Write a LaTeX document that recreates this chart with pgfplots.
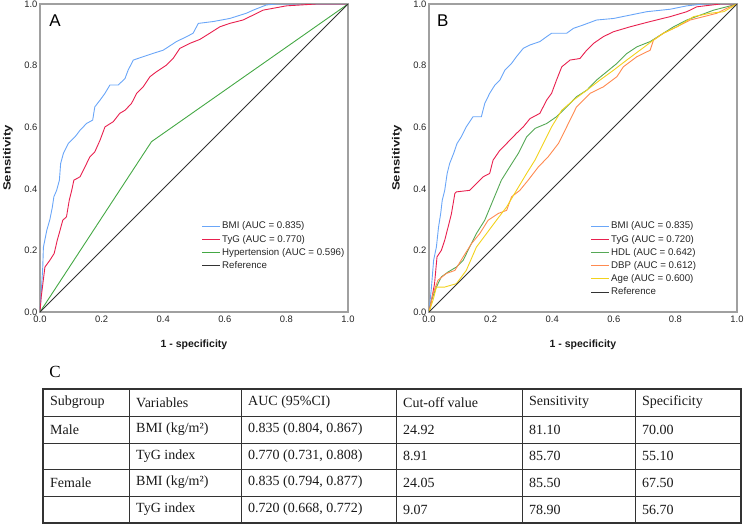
\documentclass[border=0pt]{standalone}
\usepackage{fontspec}
\setmainfont{Liberation Sans}
\newfontfamily\tabfont{Liberation Serif}
\usepackage{graphicx}
\usepackage{pgfplots}
\pgfplotsset{compat=1.18}
\definecolor{bmi}{HTML}{6AA6F8}
\definecolor{tyg}{HTML}{E8204E}
\definecolor{hyp}{HTML}{44A844}
\definecolor{hdl}{HTML}{55A855}
\definecolor{dbp}{HTML}{FF8A50}
\definecolor{age}{HTML}{F2D21C}
\definecolor{frame}{HTML}{A0A0A0}
\definecolor{refl}{HTML}{333333}
\pgfplotsset{rocstyle/.style={
  scale only axis, width=308pt, height=308pt,
  xmin=0, xmax=1, ymin=0, ymax=1,
  xtick={0,0.2,0.4,0.6,0.8,1}, ytick={0,0.2,0.4,0.6,0.8,1},
  /pgf/number format/assume math mode=true,
  xticklabel style={/pgf/number format/.cd, fixed, fixed zerofill, precision=1},
  yticklabel style={xshift=1pt, /pgf/number format/.cd, fixed, fixed zerofill, precision=1},
  tick label style={font=\fontsize{9.4}{11}\selectfont, text=black!85},
  major tick length=0pt,
  axis line style={frame, line width=1.2pt},
  xlabel={1 - specificity}, ylabel={\scalebox{1.25}[1]{Sensitivity}},
  label style={font=\fontsize{10.5}{12}\selectfont\bfseries, text=black!90},
  xlabel style={at={(axis description cs:0.5,-0.107)}, anchor=center},
  ylabel style={at={(axis description cs:-0.104,0.5)}, anchor=center},
  legend cell align=left,
  legend image code/.code={\draw[##1] (0pt,0pt) -- (18pt,0pt);},
  legend style={draw=none, fill=none, font=\fontsize{9.7}{11}\selectfont, text=black!85,
    at={(axis description cs:0.515,0.305)}, anchor=north west,
    row sep=1.7pt, nodes={inner sep=1.5pt}},
  every axis plot/.append style={line width=0.9pt, mark=none},
}}
\begin{document}
\begin{tikzpicture}
\useasboundingbox (0,0) rectangle (744pt,-524pt);
% ---------------- Panel A
\begin{axis}[rocstyle, at={(40pt,-312pt)}, anchor=south west]
\addplot[bmi] coordinates {(0,0) (0.005,0.08) (0.009,0.146) (0.011,0.21) (0.022,0.265) (0.032,0.30) (0.04,0.34) (0.045,0.374) (0.054,0.395) (0.063,0.428) (0.067,0.482) (0.076,0.515) (0.092,0.547) (0.114,0.569) (0.13,0.59) (0.151,0.612) (0.171,0.623) (0.178,0.666) (0.195,0.688) (0.211,0.71) (0.227,0.737) (0.254,0.737) (0.276,0.758) (0.286,0.785) (0.303,0.818) (0.335,0.829) (0.368,0.84) (0.4,0.85) (0.443,0.878) (0.476,0.894) (0.497,0.905) (0.514,0.937) (0.562,0.943) (0.616,0.953) (0.67,0.97) (0.692,0.98) (0.735,0.997) (0.768,1.0) (1,1)};
\addlegendentry{BMI (AUC = 0.835)}
\addplot[tyg] coordinates {(0,0) (0.004,0.049) (0.016,0.146) (0.032,0.168) (0.046,0.19) (0.056,0.233) (0.065,0.265) (0.074,0.298) (0.086,0.309) (0.095,0.363) (0.103,0.395) (0.11,0.428) (0.13,0.439) (0.146,0.471) (0.162,0.504) (0.178,0.52) (0.195,0.558) (0.211,0.601) (0.238,0.618) (0.259,0.645) (0.276,0.655) (0.297,0.677) (0.314,0.71) (0.335,0.731) (0.357,0.764) (0.378,0.78) (0.411,0.802) (0.432,0.823) (0.454,0.856) (0.486,0.872) (0.519,0.885) (0.551,0.905) (0.584,0.926) (0.616,0.937) (0.659,0.948) (0.692,0.964) (0.724,0.98) (0.8,0.994) (0.897,1.0) (1,1)};
\addlegendentry{TyG (AUC = 0.770)}
\addplot[hyp] coordinates {(0,0) (0.362,0.553) (1,1)};
\addlegendentry{Hypertension (AUC = 0.596)}
\addplot[refl] coordinates {(0,0) (1,1)};
\addlegendentry{Reference}
\node[font=\fontsize{17}{19}\selectfont, anchor=center] at (axis description cs:0.049,0.947) {A};
\end{axis}
% ---------------- Panel B
\begin{axis}[rocstyle, at={(429pt,-312pt)}, anchor=south west]
\addplot[bmi] coordinates {(0,0) (0.008,0.081) (0.015,0.168) (0.024,0.211) (0.031,0.276) (0.038,0.32) (0.043,0.363) (0.051,0.395) (0.059,0.45) (0.067,0.482) (0.08,0.515) (0.091,0.547) (0.105,0.569) (0.121,0.601) (0.143,0.634) (0.17,0.634) (0.181,0.677) (0.197,0.71) (0.214,0.737) (0.23,0.753) (0.246,0.785) (0.268,0.807) (0.284,0.829) (0.306,0.856) (0.328,0.867) (0.36,0.878) (0.382,0.894) (0.398,0.905) (0.447,0.905) (0.469,0.921) (0.501,0.932) (0.544,0.948) (0.599,0.953) (0.653,0.964) (0.707,0.975) (0.783,0.983) (0.837,0.994) (0.892,1.0) (1,1)};
\addlegendentry{BMI (AUC = 0.835)}
\addplot[tyg] coordinates {(0,0) (0.008,0.038) (0.018,0.092) (0.026,0.179) (0.04,0.2) (0.051,0.233) (0.062,0.276) (0.073,0.32) (0.084,0.385) (0.089,0.39) (0.132,0.395) (0.154,0.417) (0.176,0.439) (0.197,0.45) (0.208,0.493) (0.23,0.525) (0.252,0.547) (0.284,0.58) (0.306,0.601) (0.328,0.628) (0.36,0.645) (0.382,0.688) (0.398,0.71) (0.414,0.753) (0.431,0.796) (0.458,0.818) (0.49,0.823) (0.512,0.85) (0.534,0.872) (0.566,0.894) (0.599,0.91) (0.653,0.926) (0.718,0.943) (0.783,0.959) (0.837,0.975) (0.87,0.991) (0.946,1.0) (1,1)};
\addlegendentry{TyG (AUC = 0.720)}
\addplot[hdl] coordinates {(0,0) (0.008,0.038) (0.024,0.081) (0.04,0.114) (0.062,0.13) (0.089,0.146) (0.111,0.168) (0.132,0.211) (0.154,0.255) (0.181,0.298) (0.208,0.363) (0.235,0.428) (0.262,0.471) (0.29,0.515) (0.317,0.569) (0.344,0.596) (0.382,0.612) (0.414,0.634) (0.447,0.666) (0.479,0.699) (0.512,0.72) (0.544,0.753) (0.577,0.78) (0.61,0.807) (0.642,0.839) (0.675,0.861) (0.718,0.878) (0.751,0.899) (0.794,0.926) (0.837,0.948) (0.881,0.964) (0.924,0.98) (0.967,0.991) (1,1)};
\addlegendentry{HDL (AUC = 0.642)}
\addplot[dbp] coordinates {(0,0) (0.013,0.06) (0.029,0.103) (0.056,0.125) (0.084,0.135) (0.111,0.179) (0.138,0.222) (0.165,0.255) (0.192,0.298) (0.225,0.32) (0.252,0.33) (0.268,0.374) (0.295,0.395) (0.322,0.428) (0.355,0.471) (0.387,0.504) (0.42,0.547) (0.447,0.601) (0.479,0.666) (0.523,0.71) (0.566,0.731) (0.61,0.764) (0.631,0.796) (0.675,0.829) (0.718,0.85) (0.729,0.883) (0.761,0.905) (0.805,0.926) (0.848,0.948) (0.892,0.959) (0.935,0.97) (0.967,0.986) (1,1)};
\addlegendentry{DBP (AUC = 0.612)}
\addplot[age] coordinates {(0,0) (0.013,0.038) (0.024,0.081) (0.051,0.081) (0.089,0.092) (0.121,0.135) (0.154,0.211) (0.187,0.255) (0.219,0.298) (0.252,0.341) (0.284,0.395) (0.317,0.45) (0.344,0.493) (0.371,0.547) (0.398,0.601) (0.431,0.655) (0.469,0.688) (0.512,0.72) (0.555,0.753) (0.599,0.785) (0.642,0.818) (0.685,0.85) (0.729,0.883) (0.761,0.905) (0.805,0.926) (0.859,0.959) (0.913,0.97) (0.957,0.975) (1,1)};
\addlegendentry{Age (AUC = 0.600)}
\addplot[refl] coordinates {(0,0) (1,1)};
\addlegendentry{Reference}
\node[font=\fontsize{17}{19}\selectfont, anchor=center] at (axis description cs:0.045,0.947) {B};
\end{axis}
% ---------------- Table C
\node[font=\tabfont\fontsize{17}{19}\selectfont, anchor=center] at (55pt,-372pt) {C};
\foreach \y in {416,443,469,496} {\draw[black!80, line width=0.7pt] (43pt,-\y pt) -- (741pt,-\y pt);}
\foreach \x in {129,241,396,522,635} {\draw[black!80, line width=0.7pt] (\x pt,-389pt) -- (\x pt,-523pt);}
\draw[black!80, line width=1.1pt] (43pt,-389pt) rectangle (741pt,-523pt);
\begin{scope}[every node/.style={font=\tabfont\fontsize{14}{16}\selectfont, anchor=west, text=black!90, inner sep=0pt}]
\def\rowA{-402.5pt}\def\rowB{-429.5pt}\def\rowC{-456pt}\def\rowD{-482.5pt}\def\rowE{-509.5pt}
\node at (50pt,\rowA) {Subgroup};
\node at (136pt,\rowA) {Variables};
\node at (248pt,\rowA) {AUC (95\%CI)};
\node at (403pt,\rowA) {Cut-off value};
\node at (529pt,\rowA) {Sensitivity};
\node at (642pt,\rowA) {Specificity};
\node at (50pt,\rowB) {Male};
\node at (136pt,\rowB) {BMI (kg/m²)};
\node at (248pt,\rowB) {0.835 (0.804, 0.867)};
\node at (403pt,\rowB) {24.92};
\node at (529pt,\rowB) {81.10};
\node at (642pt,\rowB) {70.00};
\node at (136pt,\rowC) {TyG index};
\node at (248pt,\rowC) {0.770 (0.731, 0.808)};
\node at (403pt,\rowC) {8.91};
\node at (529pt,\rowC) {85.70};
\node at (642pt,\rowC) {55.10};
\node at (50pt,\rowD) {Female};
\node at (136pt,\rowD) {BMI (kg/m²)};
\node at (248pt,\rowD) {0.835 (0.794, 0.877)};
\node at (403pt,\rowD) {24.05};
\node at (529pt,\rowD) {85.50};
\node at (642pt,\rowD) {67.50};
\node at (136pt,\rowE) {TyG index};
\node at (248pt,\rowE) {0.720 (0.668, 0.772)};
\node at (403pt,\rowE) {9.07};
\node at (529pt,\rowE) {78.90};
\node at (642pt,\rowE) {56.70};
\end{scope}
\end{tikzpicture}
\end{document}
